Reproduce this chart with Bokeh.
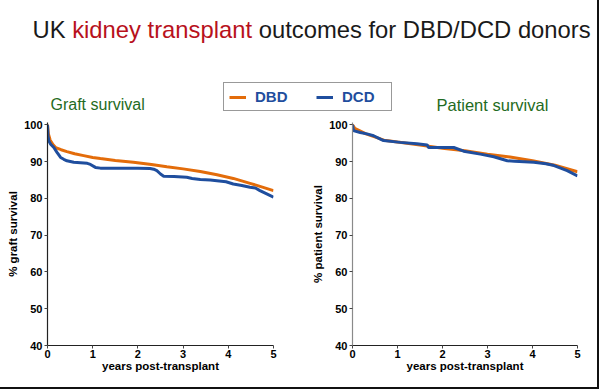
from bokeh.plotting import figure
from bokeh.models import Label, Legend, LegendItem, LinearAxis, FixedTicker, Range1d
from bokeh.layouts import column, row
from bokeh.embed import file_html
from bokeh.resources import INLINE

# ---------------- data ----------------
years_ticks = [0, 1, 2, 3, 4, 5]
surv_ticks = [40, 50, 60, 70, 80, 90, 100]

graft_dbd_t = [0.0, 0.02, 0.06, 0.12, 0.18, 0.3, 0.43, 0.6, 0.8, 1.0, 1.17, 1.5, 1.9, 2.3, 2.64, 3.0, 3.38, 3.75, 4.11, 4.5, 5.0]
graft_dbd_v = [100.0, 97.5, 95.8, 94.6, 93.8, 93.2, 92.7, 92.1, 91.6, 91.1, 90.8, 90.3, 89.8, 89.2, 88.6, 88.0, 87.3, 86.4, 85.4, 84.0, 82.1]

graft_dcd_t = [0.0, 0.01, 0.03, 0.07, 0.14, 0.21, 0.29, 0.36, 0.43, 0.58, 0.88, 0.95, 1.06, 1.17, 1.6, 2.0, 2.27, 2.35, 2.42, 2.5, 2.57, 2.8, 3.08, 3.2, 3.38, 3.6, 3.75, 3.95, 4.11, 4.3, 4.48, 4.6, 4.7, 4.85, 5.0]
graft_dcd_v = [100.0, 97.0, 95.6, 94.7, 93.8, 92.5, 91.1, 90.6, 90.2, 89.8, 89.5, 89.2, 88.4, 88.2, 88.2, 88.2, 88.1, 87.9, 87.5, 86.6, 86.0, 85.9, 85.7, 85.4, 85.1, 85.0, 84.8, 84.5, 83.9, 83.5, 83.0, 82.8, 82.1, 81.2, 80.3]

pat_dbd_t = [0.0, 0.05, 0.3, 0.7, 1.0, 1.5, 2.0, 2.5, 3.0, 3.5, 4.0, 4.5, 5.0]
pat_dbd_v = [100.0, 99.0, 97.5, 95.8, 95.3, 94.5, 93.6, 92.9, 92.0, 91.2, 90.2, 89.0, 87.2]

pat_dcd_t = [0.0, 0.02, 0.17, 0.32, 0.47, 0.62, 0.69, 1.06, 1.43, 1.66, 1.69, 2.25, 2.47, 2.84, 3.14, 3.44, 3.6, 4.03, 4.3, 4.48, 4.77, 5.0]
pat_dcd_v = [100.0, 98.4, 97.9, 97.5, 97.0, 96.1, 95.7, 95.2, 94.8, 94.5, 93.8, 93.8, 92.8, 92.0, 91.3, 90.2, 90.1, 89.8, 89.4, 88.9, 87.5, 86.1]

series_labels = ["DBD", "DCD"]
title_parts = ["UK", "kidney transplant", "outcomes for DBD/DCD donors"]
panel_titles = ["Graft survival", "Patient survival"]
y_labels = ["% graft survival", "% patient survival"]
x_label = "years post-transplant"

# ---------------- style ----------------
ORANGE = "#e36c0a"
BLUE = "#1f4e9e"
GREEN = "#1f6b22"
RED = "#b8111c"
DARK = "#1a1a1a"
FONT = "Liberation Sans"

TOP_H = 117

# ---------------- header figure (title, panel titles, legend) ----------------
top = figure(width=597, height=TOP_H, output_backend="svg", toolbar_location=None,
             x_range=Range1d(0, 1), y_range=Range1d(0, 1), min_border=0,
             x_axis_location=None, y_axis_location=None)
top.grid.visible = False
top.outline_line_color = None

fs = 23.8
em = fs / 1000.0
starts = [32, 32 + 1667 * em, 32 + 9504 * em]
colors = [DARK, RED, DARK]
for txt, x0, c in zip(title_parts, starts, colors):
    top.add_layout(Label(x=x0, y=TOP_H - 29, x_units="screen", y_units="screen", text=txt,
                         text_font=FONT, text_font_size=f"{fs}px", text_color=c,
                         text_baseline="middle"))

top.add_layout(Label(x=50, y=TOP_H - 104, x_units="screen", y_units="screen", text=panel_titles[0],
                     text_font=FONT, text_font_size="16px", text_color=GREEN,
                     text_baseline="middle"))
top.add_layout(Label(x=436, y=TOP_H - 104, x_units="screen", y_units="screen", text=panel_titles[1],
                     text_font=FONT, text_font_size="16.5px", text_color=GREEN,
                     text_baseline="middle"))

# legend proxies: the same series, lying outside this header's ranges (not drawn)
r_dbd = top.line(x=graft_dbd_t, y=graft_dbd_v, line_color=ORANGE, line_width=3)
r_dcd = top.line(x=graft_dcd_t, y=graft_dcd_v, line_color=BLUE, line_width=3)
legend = Legend(items=[LegendItem(label=series_labels[0], renderers=[r_dbd]),
                       LegendItem(label=series_labels[1], renderers=[r_dcd])],
                location=(223, 6), orientation="horizontal",
                label_text_font=FONT, label_text_font_style="bold",
                label_text_font_size="15px", label_text_color=BLUE,
                glyph_width=17, glyph_height=16, label_height=16, label_width=44,
                label_standoff=9, spacing=17, padding=5, margin=0,
                border_line_color="#333333", border_line_width=1,
                background_fill_color="white", background_fill_alpha=1.0)
top.add_layout(legend, "center")


def panel(ylabel, dbd_t, dbd_v, dcd_t, dcd_v, w, bl, br, yaxis_color):
    p = figure(width=w, height=270, output_backend="svg", toolbar_location=None,
               x_range=Range1d(0, 5), y_range=Range1d(40, 100.6),
               min_border_left=bl, min_border_right=br, min_border_top=5, min_border_bottom=42,
               x_axis_location=None, y_axis_location=None)
    p.grid.visible = False
    p.outline_line_color = None
    xa = LinearAxis(ticker=FixedTicker(ticks=years_ticks), axis_label=x_label)
    ya = LinearAxis(ticker=FixedTicker(ticks=surv_ticks), axis_label=ylabel)
    for a in (xa, ya):
        a.major_label_text_font = FONT
        a.major_label_text_font_style = "bold"
        a.major_label_text_font_size = "11px"
        a.major_label_text_color = "black"
        a.axis_label_text_font = FONT
        a.axis_label_text_font_style = "bold"
        a.axis_label_text_font_size = "11.5px"
        a.axis_label_text_color = "black"
        a.major_tick_in = 0
        a.major_tick_out = 3
        a.minor_tick_in = 0
        a.minor_tick_out = 0
        a.axis_line_width = 1.2
        a.major_tick_line_color = "#444444"
    xa.axis_line_color = "#222222"
    xa.major_label_standoff = 1
    xa.axis_label_standoff = -1
    ya.axis_line_color = yaxis_color
    ya.major_label_standoff = 2
    ya.axis_label_standoff = 2
    p.add_layout(xa, "below")
    p.add_layout(ya, "left")
    p.line(dbd_t, dbd_v, line_color=ORANGE, line_width=3)
    p.line(dcd_t, dcd_v, line_color=BLUE, line_width=3)
    return p


left = panel(y_labels[0], graft_dbd_t, graft_dbd_v, graft_dcd_t, graft_dcd_v, 300, 47, 27, "#222222")
right = panel(y_labels[1], pat_dbd_t, pat_dbd_v, pat_dcd_t, pat_dcd_v, 297, 52, 20, "#8a8a8a")

layout = column(top, row(left, right, spacing=0), spacing=0,
                styles={"border-right": "2px solid #111111", "border-bottom": "2px solid #111111"})

open("out.html", "w").write(file_html(layout, INLINE))
